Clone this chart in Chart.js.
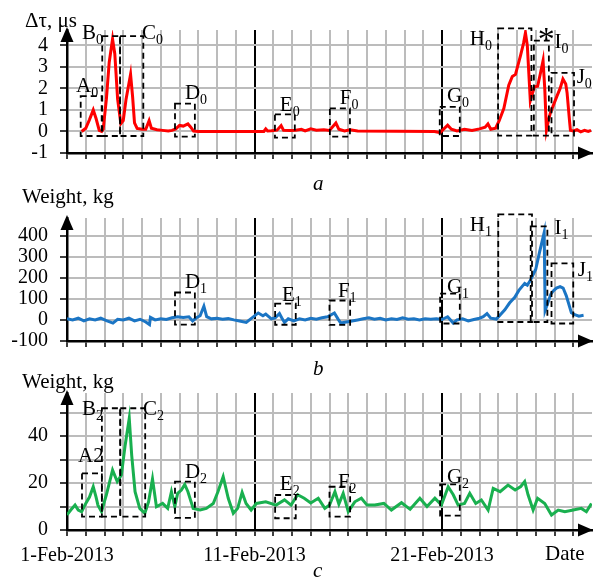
<!DOCTYPE html>
<html>
<head>
<meta charset="utf-8">
<script src="https://cdn.jsdelivr.net/npm/chart.js@4.4.1/dist/chart.umd.min.js"></script>
<style>
  body { margin: 0; background: #fff; width: 598px; height: 583px; position: relative; overflow: hidden; font-family: "Liberation Serif", serif; }
  canvas { position: absolute; left: 0; }
  .t { position: absolute; font-size: 21px; line-height: 20px; color: #000; white-space: nowrap; }
  .it { font-style: italic; }
</style>
</head>
<body>
<canvas id="pa" width="598" height="177" style="top:0"></canvas>
<canvas id="pb" width="598" height="177" style="top:188px"></canvas>
<canvas id="pc" width="598" height="220" style="top:363px"></canvas>

<div class="t" style="left:25px;top:10px">Δτ, μs</div>
<div class="t" style="left:22px;top:186px">Weight, kg</div>
<div class="t" style="left:22px;top:371px">Weight, kg</div>
<div class="t it" style="left:313px;top:173px">a</div>
<div class="t it" style="left:313px;top:358px">b</div>
<div class="t it" style="left:313px;top:560px">c</div>
<div class="t" style="left:545px;top:543px">Date</div>

<script>
// day 0 = 1-Feb-2013
const DAY_MAX = 28;

// a: delay, [day, µs]
const delayA = [[0.78,0],[1.0,0.15],[1.2,0.55],[1.4,1.0],[1.55,0.6],[1.72,0.05],[1.85,0],[1.93,0.1],
  [2.1,1.5],[2.25,3.2],[2.43,4.29],[2.55,3.6],[2.7,1.5],[2.87,0.36],[3.0,0.5],[3.15,1.5],[3.39,2.65],
  [3.5,1.6],[3.6,0.4],[3.74,0.14],[4.0,0.1],[4.2,0.1],[4.38,0.5],[4.5,0.15],[4.8,0.08],[5.1,0.05],
  [5.4,0.02],[5.6,0.05],[5.8,0.12],[6.0,0.28],[6.2,0.25],[6.45,0.35],[6.6,0.2],[6.75,0.02],[7.0,0],
  [10.5,0],[10.6,0.12],[10.7,0.02],[10.9,0.03],[11.2,0.06],[11.42,0.27],[11.55,0.05],[11.9,0.04],
  [12.2,0.06],[12.5,0.1],[12.7,0.03],[13.0,0.12],[13.3,0.06],[13.7,0.08],[14.0,0.05],[14.34,0.39],
  [14.5,0.1],[14.8,0.02],[15.1,0.08],[15.5,0.02],[19.6,0],[19.9,-0.05],[20.3,0.29],[20.5,0.1],
  [20.8,0.02],[21.2,0.1],[21.6,0.05],[22.0,0.12],[22.3,0.2],[22.45,0.35],[22.6,0.1],[22.86,0.15],
  [23.05,0.5],[23.3,1.07],[23.56,2.15],[23.75,2.55],[23.92,2.65],[24.18,3.5],[24.35,4.1],[24.45,4.58],
  [24.55,4.0],[24.71,1.43],[24.8,1.7],[24.93,2.07],[25.1,2.1],[25.25,2.7],[25.39,3.29],[25.48,2.0],
  [25.57,0.07],[25.7,0.6],[25.78,0.86],[26.13,1.64],[26.3,2.0],[26.45,2.43],[26.6,2.2],[26.67,1.8],
  [26.8,0.5],[26.85,0.05],[27.0,0.02],[27.2,0.08],[27.4,-0.02],[27.6,0.05],[27.8,0],[27.95,0.05]];

// b: weight, [day, kg]
const weightB = [[0,5],[0.3,0],[0.6,8],[0.9,-5],[1.2,5],[1.5,0],[1.8,8],[2.1,-3],[2.45,-15],[2.7,3],
  [3.0,0],[3.3,8],[3.6,-5],[3.9,3],[4.2,-10],[4.4,-22],[4.45,12],[4.7,0],[5.0,5],[5.3,2],[5.6,10],
  [5.9,15],[6.2,12],[6.5,15],[6.7,-5],[6.9,10],[7.1,20],[7.3,65],[7.45,15],[7.7,5],[8.0,8],[8.3,3],
  [8.6,6],[8.9,0],[9.2,-5],[9.56,-12],[9.8,5],[10.2,33],[10.45,20],[10.6,28],[10.9,5],[11.1,10],
  [11.33,30],[11.45,10],[11.6,-12],[11.8,5],[12.1,-5],[12.4,5],[12.7,0],[13.0,8],[13.3,3],[13.6,10],
  [13.9,15],[14.26,33],[14.45,5],[14.6,-15],[14.9,-10],[15.2,-5],[15.5,0],[15.8,5],[16.1,10],[16.4,3],
  [16.7,8],[17.0,0],[17.3,5],[17.6,2],[17.9,10],[18.2,3],[18.5,5],[18.8,0],[19.1,5],[19.4,3],[19.7,5],
  [20.0,2],[20.3,15],[20.6,-15],[20.8,0],[21.1,5],[21.4,-5],[21.7,2],[22.0,8],[22.2,15],[22.4,30],
  [22.6,8],[22.9,4],[23.35,48],[23.6,80],[23.88,107],[24.1,140],[24.41,173],[24.55,165],[24.7,185],
  [25.0,240],[25.2,320],[25.45,414],[25.5,45],[25.6,70],[25.8,121],[25.92,136],[26.1,151],[26.3,158],
  [26.46,151],[26.63,114],[26.9,34],[27.08,25],[27.3,18],[27.55,22]];

// c: weight, [day, kg]
const weightC = [[0,6.4],[0.2,8.5],[0.43,10.6],[0.6,8.5],[0.78,7.8],[1.0,11.3],[1.2,14],[1.4,18.4],
  [1.55,14],[1.65,10.6],[1.84,7.8],[2.1,15],[2.43,25.5],[2.68,20.6],[2.9,23.4],[3.1,36],[3.32,47.5],
  [3.45,31.9],[3.63,16.3],[3.88,9.2],[4.15,7.1],[4.35,12],[4.56,21.7],[4.77,9.9],[5.1,11.3],[5.37,9.2],
  [5.57,16.3],[5.75,10],[5.9,15.6],[6.1,17],[6.28,19.4],[6.45,16.3],[6.73,9.2],[7.1,8.5],[7.43,9.2],
  [7.8,11.3],[8.05,16.3],[8.33,22.7],[8.6,13.5],[8.87,7.1],[9.1,9.2],[9.34,16],[9.55,11.3],[9.82,8.5],
  [10.1,11.3],[10.6,12],[11.15,10.6],[11.6,12.8],[11.95,10.6],[12.3,15],[12.65,13.5],[13.0,11.5],
  [13.4,13.5],[13.75,9.2],[14.0,10.6],[14.29,16.3],[14.5,11],[14.73,15.6],[15.0,7.8],[15.35,12],
  [15.7,13.5],[16.0,10.6],[16.42,10.6],[16.9,11.3],[17.3,8.5],[17.84,11.6],[18.3,8.8],[18.82,13.5],
  [19.2,10],[19.62,13.5],[19.97,10.6],[20.33,18.4],[20.6,15],[20.86,10.6],[21.2,11.3],[21.48,15.6],
  [21.8,11.3],[22.1,12.8],[22.46,8.5],[22.73,17.7],[23.1,16.3],[23.52,19.1],[23.9,17],[24.2,18.5],
  [24.41,20.6],[24.59,15],[24.86,8.5],[25.1,13.5],[25.48,11.3],[25.84,6.4],[26.2,8.5],[26.55,7.8],
  [27.0,8.5],[27.43,9.2],[27.7,7.8],[27.97,11.3]];

const yTicksA = [-1, 0, 1, 2, 3, 4];
const yTicksB = [-100, 0, 100, 200, 300, 400];
const yTicksC = [0, 10, 20, 30, 40, 50];
const yLabelsC = { 0: '0', 20: '20', 40: '40' };
const dateLabels = { 0: '1-Feb-2013', 10: '11-Feb-2013', 20: '21-Feb-2013' };

// dashed boxes: [letter, subscript, day from, day to, low, high, label day, label baseline]
const boxesA = [
  ['A','0', 0.73,1.85, -0.21,1.64, 0.48,1.85],
  ['B','0', 1.88,2.83, -0.21,4.43, 0.8,4.29],
  ['C','0', 2.83,4.07, -0.21,4.43, 4.0,4.29],
  ['D','0', 5.76,6.82, -0.24,1.29, 6.29,1.5],
  ['E','0', 11.09,12.15, -0.29,0.79, 11.35,0.94],
  ['F','0', 14.02,15.09, -0.24,1.07, 14.55,1.29],
  ['G','0', 19.88,20.95, -0.21,1.14, 20.26,1.37],
  ['H','0', 22.99,24.77, -0.19,4.79, 21.48,4.0],
  ['I','0', 24.9,25.7, -0.19,4.22, 26.0,3.86],
  ['J','0', 25.84,27.04, -0.19,2.72, 27.18,2.23]
];
const starA = [25.1, 3.78];
const boxesB = [
  ['D','1', 5.76,6.82, -22,130, 6.29,151],
  ['E','1', 11.1,12.2, -23,77, 11.46,88],
  ['F','1', 14.0,15.1, -24,92, 14.45,107],
  ['G','1', 19.9,20.95, -17,125, 20.26,129],
  ['H','1', 23.0,24.8, -10,500, 21.48,421],
  ['I','1', 24.73,25.62, -10,443, 26.0,407],
  ['J','1', 25.84,27.0, -17,268, 27.24,209]
];
const boxesC = [
  ['A2','', 0.8,1.86, 5.7,24.1, 0.59,29],
  ['B','2', 1.86,2.84, 5.7,51.8, 0.8,48.9],
  ['C','2', 2.84,4.17, 5.7,51.8, 4.05,48.9],
  ['D','2', 5.76,6.82, 5.2,20.6, 6.29,22],
  ['E','2', 11.1,12.2, 5,14.9, 11.35,17],
  ['F','2', 14.0,15.1, 5.7,18.4, 14.45,17.7],
  ['G','2', 19.9,20.95, 6.1,19.4, 20.26,19.9]
];

const FONT = '"Liberation Serif", serif';
Chart.defaults.font.family = FONT;
Chart.defaults.font.size = 20;
Chart.defaults.color = '#000';

const overlay = {
  id: 'overlay',
  afterDraw(chart, args, opts) {
    const { ctx, chartArea: a, scales: { x, y } } = chart;
    ctx.save();
    // axis arrows
    ctx.fillStyle = '#000';
    ctx.beginPath();
    ctx.moveTo(a.left, a.top - 3); ctx.lineTo(a.left - 6.5, a.top + 12); ctx.lineTo(a.left + 6.5, a.top + 12);
    ctx.fill();
    ctx.beginPath();
    ctx.moveTo(a.right + 1, a.bottom); ctx.lineTo(a.right - 14, a.bottom - 6.5); ctx.lineTo(a.right - 14, a.bottom + 6.5);
    ctx.fill();
    // dashed boxes
    ctx.strokeStyle = '#000';
    ctx.lineWidth = 1.8;
    ctx.setLineDash([6, 4]);
    (opts.boxes || []).forEach(b => {
      const x0 = x.getPixelForValue(b[2]), x1 = x.getPixelForValue(b[3]);
      const y0 = y.getPixelForValue(b[4]), y1 = y.getPixelForValue(b[5]);
      ctx.strokeRect(x0, y1, x1 - x0, y0 - y1);
    });
    ctx.setLineDash([]);
    // labels with subscripts
    ctx.textBaseline = 'alphabetic';
    ctx.textAlign = 'left';
    (opts.boxes || []).forEach(b => {
      const lx = x.getPixelForValue(b[6]), ly = y.getPixelForValue(b[7]);
      ctx.font = '21px ' + FONT;
      ctx.fillText(b[0], lx, ly);
      if (b[1]) {
        const w = ctx.measureText(b[0]).width;
        ctx.font = '14px ' + FONT;
        ctx.fillText(b[1], lx + w, ly + 5);
      }
    });
    if (opts.star) {
      ctx.font = '34px ' + FONT;
      ctx.fillText('*', x.getPixelForValue(opts.star[0]), y.getPixelForValue(opts.star[1]));
    }
    ctx.restore();
  }
};

function makePanel(id, points, color, yMin, yMax, yTicks, yLabel, xHeight, showDates, boxes, star) {
  return new Chart(document.getElementById(id), {
    type: 'line',
    data: {
      datasets: [{
        data: points.map(p => ({ x: p[0], y: p[1] })),
        borderColor: color,
        borderWidth: 3,
        pointRadius: 0,
        tension: 0,
        fill: false
      }]
    },
    options: {
      responsive: false,
      animation: false,
      layout: { padding: { top: 30, right: 6, bottom: 0, left: 0 } },
      plugins: {
        legend: { display: false },
        tooltip: { enabled: false },
        overlay: { boxes: boxes, star: star }
      },
      scales: {
        x: {
          type: 'linear',
          min: 0,
          max: DAY_MAX,
          afterBuildTicks: s => { s.ticks = Array.from({ length: 28 }, (_, i) => ({ value: i })); },
          afterFit: s => { s.height = xHeight; },
          ticks: {
            display: showDates,
            autoSkip: false,
            maxRotation: 0,
            minRotation: 0,
            padding: 8,
            callback: v => dateLabels[v] || ''
          },
          grid: {
            color: c => (c.tick && (c.tick.value === 10 || c.tick.value === 20)) ? '#000' : '#bcbcbc',
            lineWidth: 2,
            tickColor: '#000',
            tickLength: 6,
            tickWidth: 1.5
          },
          border: { color: '#000', width: 2.5 }
        },
        y: {
          min: yMin,
          max: yMax,
          afterBuildTicks: s => { s.ticks = yTicks.map(v => ({ value: v })); },
          afterFit: s => { s.width = 67; },
          ticks: { padding: 12, callback: yLabel },
          grid: { color: '#bcbcbc', lineWidth: 2, tickColor: '#000', tickLength: 7, tickWidth: 1.5 },
          border: { color: '#000', width: 2.5 }
        }
      }
    },
    plugins: [overlay]
  });
}

makePanel('pa', delayA, '#ff0000', -1, 4.71, yTicksA, v => String(v), 14, false, boxesA, starA);
makePanel('pb', weightB, '#1b75c4', -100, 483, yTicksB, v => String(v), 14, false, boxesB, null);
makePanel('pc', weightC, '#19b04f', 0, 58.3, yTicksC, v => yLabelsC[v] || '', 53, true, boxesC, null);
</script>
</body>
</html>
